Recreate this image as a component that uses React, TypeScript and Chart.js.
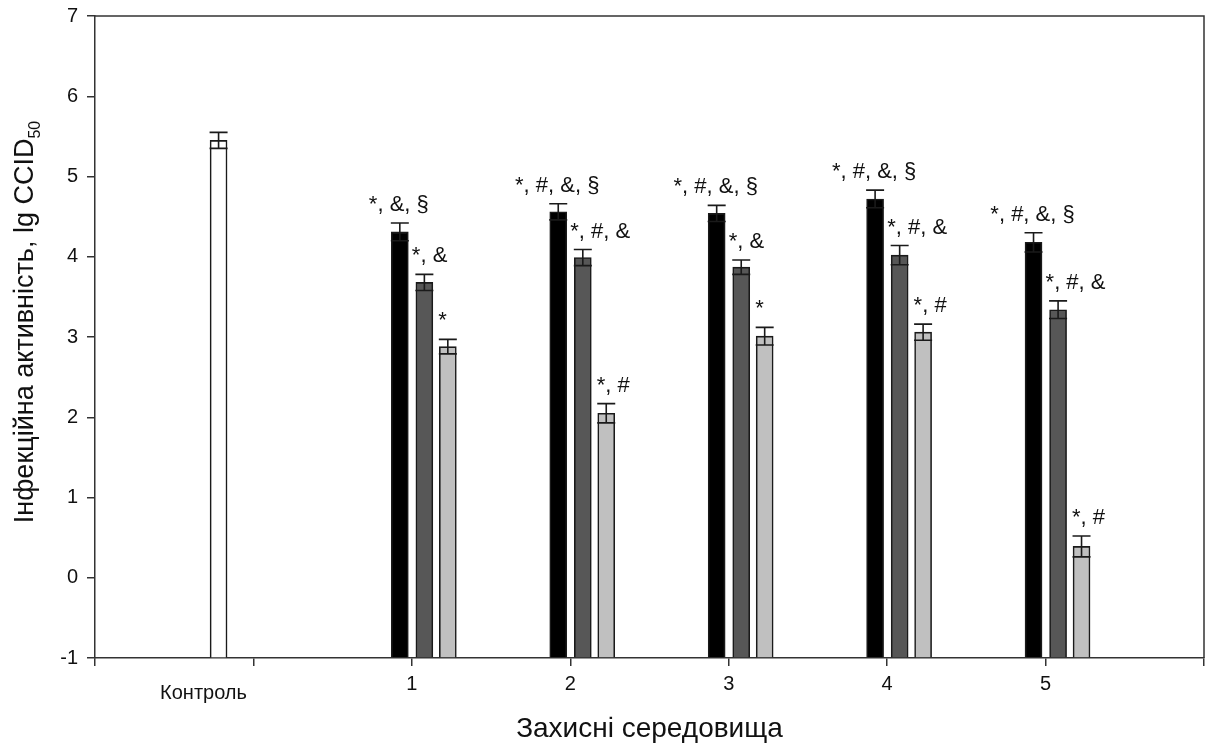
import React, { useEffect, useRef } from "react";
import { Chart, registerables } from "chart.js";

Chart.register(...registerables);

// ---------- data ----------
const groupLabels = ["1", "2", "3", "4", "5"];
const controlLabel = "Контроль";
const controlValue = [5.45];
const controlError = [0.1];

const seriesA = [4.31, 4.56, 4.54, 4.72, 4.18]; // black
const seriesB = [3.68, 3.99, 3.87, 4.02, 3.34]; // dark grey
const seriesC = [2.88, 2.05, 3.01, 3.06, 0.39]; // light grey

const errorA = [0.11, 0.1, 0.1, 0.11, 0.12];
const errorB = [0.1, 0.1, 0.09, 0.12, 0.11];
const errorC = [0.09, 0.12, 0.11, 0.1, 0.13];

const marksA = ["*, &, §", "*, #, &, §", "*, #, &, §", "*, #, &, §", "*, #, &, §"];
const marksB = ["*, &", "*, #, &", "*, &", "*, #, &", "*, #, &"];
const marksC = ["*", "*, #", "*", "*, #", "*, #"];

const yTicks = [-1, 0, 1, 2, 3, 4, 5, 6, 7];

const yTitle = "Інфекційна активність, lg CCID";
const yTitleSub = "50";
const xTitle = "Захисні середовища";

// ---------- layout / style constants ----------
const FONT = "'Liberation Sans', Arial, sans-serif";
const AXIS_COLOR = "#333333";
const TEXT_COLOR = "#111111";
const controlPos = -0.22;
const controlLabelPos = -0.315;
const seriesOffset = [-0.076, 0.079, 0.227];
const BAR_W = 17;

type Ann = { text: string; align: "center" | "left"; dx: number };

function App() {
  const ref = useRef<HTMLCanvasElement | null>(null);

  useEffect(() => {
    if (!ref.current) return;

    const mk = (vals: number[], off: number) =>
      vals.map((v, i) => ({ x: Number(groupLabels[i]) + off, y: v }));

    const errorSets = [controlError, errorA, errorB, errorC];
    const markSets: (string[] | null)[] = [null, marksA, marksB, marksC];
    const markAlign: Ann["align"][] = ["center", "center", "left", "left"];
    const markDx = [0, -1, -4, -1];

    const overlay = {
      id: "overlay",
      afterDatasetsDraw(chart: any) {
        const ctx = chart.ctx;
        const ys = chart.scales.y;
        const xs = chart.scales.x;
        const area = chart.chartArea;
        ctx.save();
        // error bars
        ctx.strokeStyle = "#1a1a1a";
        ctx.lineWidth = 1.6;
        chart.data.datasets.forEach((ds: any, di: number) => {
          const meta = chart.getDatasetMeta(di);
          const errs = errorSets[di];
          meta.data.forEach((el: any, i: number) => {
            const v = ds.data[i].y;
            const e = errs[i];
            const yTop = ys.getPixelForValue(v + e);
            const yBot = ys.getPixelForValue(v - e);
            const x = el.x;
            const hw = 9;
            ctx.beginPath();
            ctx.moveTo(x, yTop);
            ctx.lineTo(x, yBot);
            ctx.moveTo(x - hw, yTop);
            ctx.lineTo(x + hw, yTop);
            ctx.moveTo(x - hw, yBot);
            ctx.lineTo(x + hw, yBot);
            ctx.stroke();
          });
        });
        // significance marks
        ctx.fillStyle = TEXT_COLOR;
        ctx.font = `22px ${FONT}`;
        ctx.textBaseline = "alphabetic";
        chart.data.datasets.forEach((ds: any, di: number) => {
          const marks = markSets[di];
          if (!marks) return;
          const meta = chart.getDatasetMeta(di);
          meta.data.forEach((el: any, i: number) => {
            const v = ds.data[i].y;
            const e = errorSets[di][i];
            const yTop = ys.getPixelForValue(v + e);
            const align = markAlign[di];
            ctx.textAlign = align;
            const x = align === "center" ? el.x + markDx[di] : el.x - BAR_W / 2 + markDx[di];
            ctx.fillText(marks[i], x, yTop - 12);
          });
        });
        // top & right frame
        ctx.strokeStyle = AXIS_COLOR;
        ctx.lineWidth = 1.5;
        ctx.beginPath();
        ctx.moveTo(area.left, area.top);
        ctx.lineTo(area.right, area.top);
        ctx.lineTo(area.right, area.bottom);
        ctx.stroke();
        // control label
        ctx.font = `20px ${FONT}`;
        ctx.textAlign = "center";
        ctx.fillText(controlLabel, xs.getPixelForValue(controlLabelPos), 699);
        // x title
        ctx.font = `28px ${FONT}`;
        ctx.fillText(xTitle, (area.left + area.right) / 2, 737);
        // y title (rotated, with subscript)
        const mainFont = `27px ${FONT}`;
        const subFont = `16px ${FONT}`;
        ctx.font = mainFont;
        const w1 = ctx.measureText(yTitle).width;
        ctx.font = subFont;
        const w2 = ctx.measureText(yTitleSub).width;
        const total = w1 + w2;
        ctx.translate(33, (area.top + area.bottom) / 2 - 15);
        ctx.rotate(-Math.PI / 2);
        ctx.textAlign = "left";
        ctx.font = mainFont;
        ctx.fillText(yTitle, -total / 2, 0);
        ctx.font = subFont;
        ctx.fillText(yTitleSub, -total / 2 + w1, 7);
        ctx.restore();
      },
    };

    const chart = new Chart(ref.current, {
      type: "bar",
      data: {
        datasets: [
          {
            label: controlLabel,
            data: [{ x: controlPos, y: controlValue[0] }],
            backgroundColor: "#ffffff",
            borderColor: "#1a1a1a",
            borderWidth: 1.6,
          },
          {
            label: "A",
            data: mk(seriesA, seriesOffset[0]),
            backgroundColor: "#000000",
            borderColor: "#1a1a1a",
            borderWidth: 1.6,
          },
          {
            label: "B",
            data: mk(seriesB, seriesOffset[1]),
            backgroundColor: "#575757",
            borderColor: "#1a1a1a",
            borderWidth: 1.6,
          },
          {
            label: "C",
            data: mk(seriesC, seriesOffset[2]),
            backgroundColor: "#c0c0c0",
            borderColor: "#1a1a1a",
            borderWidth: 1.6,
          },
        ] as any,
      },
      options: {
        animation: false,
        responsive: false,
        layout: { padding: { left: 0, top: 16, right: 2, bottom: 0 } },
        datasets: {
          bar: { grouped: false, barThickness: BAR_W, base: -1 } as any,
        },
        plugins: {
          legend: { display: false },
          tooltip: { enabled: false },
        },
        scales: {
          x: {
            type: "linear",
            min: -1,
            max: 6,
            offset: false,
            grid: {
              display: true,
              drawOnChartArea: false,
              drawTicks: true,
              tickLength: 8,
              color: AXIS_COLOR,
              lineWidth: 1.5,
              offset: false,
            },
            border: { display: true, color: AXIS_COLOR, width: 1.5 },
            ticks: {
              stepSize: 1,
              autoSkip: false,
              maxRotation: 0,
              padding: 6,
              color: TEXT_COLOR,
              font: { family: FONT, size: 20 },
              callback: (v: any) => {
                const idx = groupLabels.indexOf(String(v));
                return idx >= 0 ? groupLabels[idx] : "";
              },
            },
            afterFit: (s: any) => {
              s.height = 86;
              s.paddingRight = 0;
              s.paddingLeft = 0;
            },
          } as any,
          y: {
            type: "linear",
            min: yTicks[0],
            max: yTicks[yTicks.length - 1],
            grid: {
              display: true,
              drawOnChartArea: false,
              drawTicks: true,
              tickLength: 8,
              color: AXIS_COLOR,
              lineWidth: 1.5,
            },
            border: { display: true, color: AXIS_COLOR, width: 1.5 },
            afterBuildTicks: (s: any) => {
              s.ticks = yTicks.map((v) => ({ value: v }));
            },
            ticks: {
              padding: 9,
              color: TEXT_COLOR,
              font: { family: FONT, size: 20 },
            },
            afterFit: (s: any) => {
              s.width = 95;
              s.paddingTop = 0;
              s.paddingBottom = 0;
            },
          } as any,
        },
      },
      plugins: [overlay],
    });

    return () => chart.destroy();
  }, []);

  return (
    <div style={{ position: "fixed", left: 0, top: 0, width: 1206, height: 744, background: "#fff" }}>
      <canvas ref={ref} width={1206} height={744} />
    </div>
  );
}

export default App;
